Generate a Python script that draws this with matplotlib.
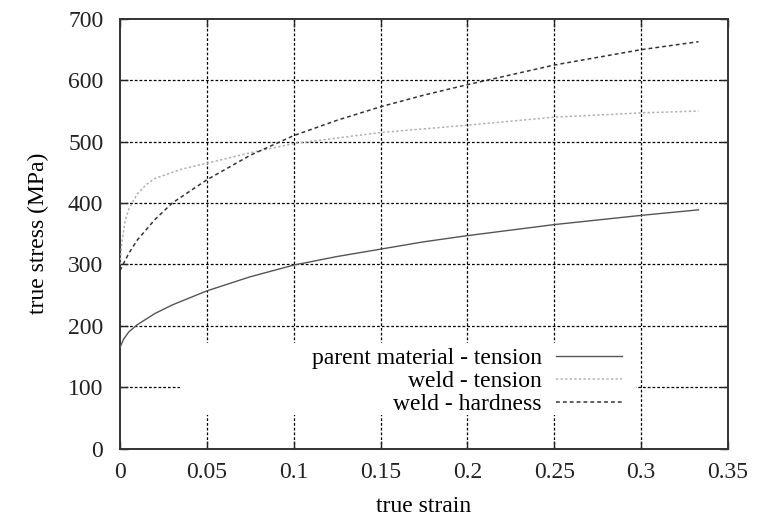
"""
True stress vs true strain for parent material and weld (tension and hardness derived).
"""

import matplotlib
matplotlib.use("Agg")
import matplotlib.pyplot as plt
from matplotlib.patches import Rectangle

# values
parent_strain = [0, 0.002, 0.005, 0.01, 0.02, 0.03, 0.05, 0.075, 0.1, 0.125,
                 0.15, 0.175, 0.2, 0.25, 0.3, 0.333]
parent_stress = [165, 178, 190, 202, 220, 234, 257, 280, 299, 313,
                 325, 337, 347, 365, 380, 389]

weld_t_strain = [0, 0.001, 0.003, 0.005, 0.01, 0.015, 0.02, 0.035, 0.05, 0.075,
                 0.1, 0.125, 0.15, 0.2, 0.25, 0.3, 0.333]
weld_t_stress = [300, 335, 372, 390, 415, 430, 440, 455, 465, 482,
                 497, 506, 515, 527, 540, 547, 550]

weld_h_strain = [0, 0.005, 0.01, 0.02, 0.03, 0.05, 0.075, 0.1, 0.125, 0.15,
                 0.175, 0.2, 0.25, 0.3, 0.333]
weld_h_stress = [290, 318, 340, 373, 400, 438, 478, 510, 535, 557,
                 576, 593, 625, 650, 663]

x_ticks = [0, 0.05, 0.1, 0.15, 0.2, 0.25, 0.3, 0.35]
x_tick_labels = ["0", "0.05", "0.1", "0.15", "0.2", "0.25", "0.3", "0.35"]
y_ticks = [0, 100, 200, 300, 400, 500, 600, 700]

labels = ["parent material - tension", "weld - tension", "weld - hardness"]

plt.rcParams["font.family"] = ["Liberation Serif", "DejaVu Serif"]
plt.rcParams["font.size"] = 17

fig = plt.figure(figsize=(7.66, 5.2), dpi=100)
ax = fig.add_axes([0.1567, 0.1373, 0.7937, 0.8262])

# grid
for xv in x_ticks[1:-1]:
    ax.axvline(xv, color="black", lw=0.9, ls=(0, (2.2, 1.6)), zorder=1)
for yv in y_ticks[1:-1]:
    ax.axhline(yv, color="black", lw=0.9, ls=(0, (2.2, 1.6)), zorder=1)

# blank key area (gnuplot clears the grid under the key)
ax.add_patch(Rectangle((0.099, 0.078), 0.75, 0.168, transform=ax.transAxes,
                       facecolor="white", edgecolor="none", zorder=2))

ax.plot(parent_strain, parent_stress, color="#555555", lw=1.0,
        label=labels[0], zorder=3)
ax.plot(weld_t_strain, weld_t_stress, color="#b0b0b0", lw=1.1,
        ls=(0, (1.5, 1.5)), label=labels[1], zorder=3)
ax.plot(weld_h_strain, weld_h_stress, color="#333333", lw=1.1,
        ls=(0, (2.5, 2.0)), label=labels[2], zorder=3)

ax.set_xlim(0, 0.35)
ax.set_ylim(0, 700)
ax.set_xticks(x_ticks)
ax.set_xticklabels(x_tick_labels)
ax.set_yticks(y_ticks)
ax.tick_params(direction="in", length=6, width=1.0, top=True, right=True,
               pad=12, colors="#222222")
ax.tick_params(axis="x", pad=10)
for sp in ax.spines.values():
    sp.set_color("#333333")
    sp.set_linewidth(1.4)

ax.set_xlabel("true strain", labelpad=9)
ax.set_ylabel("true stress (MPa)", labelpad=14)

leg = ax.legend(loc="upper right", bbox_to_anchor=(0.845, 0.262),
                frameon=False, markerfirst=False, borderpad=0,
                handlelength=2.8, handletextpad=0.6, labelspacing=0.05,
                fontsize=17)
leg.set_zorder(4)

fig.savefig("out.png", dpi=100)
